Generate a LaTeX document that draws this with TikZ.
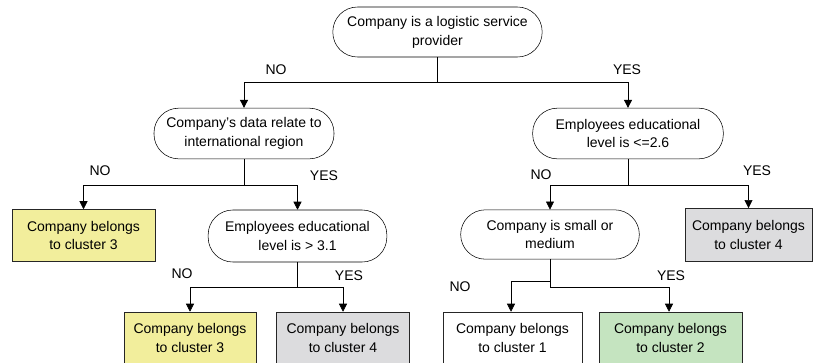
\documentclass[tikz,border=0pt]{standalone}
\usepackage{fontspec}
\setmainfont{Liberation Sans}
\usepackage{xcolor}
\usetikzlibrary{arrows.meta, positioning, calc}

\definecolor{leafyellow}{HTML}{F2EE9C}
\definecolor{leafgrey}{HTML}{DCDCDE}
\definecolor{leafgreen}{HTML}{C5E4C0}

\begin{document}
\begin{tikzpicture}[
  x=0.75pt, y=-0.75pt,
  every node/.style={font=\fontsize{10.5}{14.2}\selectfont},
  test/.style={rectangle, rounded corners=18.5pt, draw, thin, align=center, inner sep=0pt},
  leaf/.style={rectangle, draw=black!85, thin, align=center, inner sep=0pt},
  arrow/.style={-{Triangle[length=6pt, width=6pt]}, thin},
  answer/.style={inner sep=0pt}
]

\useasboundingbox (0,0) rectangle (821,362);

\node[test, minimum width=157pt, minimum height=37.5pt] (root) at (437.5, 32) {Company is a logistic service\\provider};
\node[test, minimum width=135pt, minimum height=38pt] (intl) at (244, 133.5) {Company’s data relate to\\international region};
\node[test, minimum width=143pt, minimum height=38pt] (edu26) at (628, 133.5) {Employees educational\\level is <=2.6};

\node[leaf, fill=leafyellow, minimum width=107pt, minimum height=39pt] (clA) at (83.5, 235.5) {Company belongs\\to cluster 3};
\node[test, minimum width=134pt, minimum height=39pt] (edu31) at (297.5, 236) {Employees educational\\level is > 3.1};
\node[test, minimum width=134pt, minimum height=37pt] (small) at (550, 234.5) {Company is small or\\medium};
\node[leaf, fill=leafgrey, minimum width=95pt, minimum height=40pt] (clB) at (748.5, 235) {Company belongs\\to cluster 4};

\node[leaf, fill=leafyellow, minimum width=99pt, minimum height=48pt, text depth=9pt] (clC) at (190, 344) {Company belongs\\to cluster 3};
\node[leaf, fill=leafgrey, minimum width=100pt, minimum height=48pt, text depth=9pt] (clD) at (343, 344) {Company belongs\\to cluster 4};
\node[leaf, fill=white, minimum width=104pt, minimum height=48pt, text depth=9pt] (clE) at (512.5, 344) {Company belongs\\to cluster 1};
\node[leaf, fill=leafgreen, minimum width=107pt, minimum height=48pt, text depth=9pt] (clF) at (670.5, 344) {Company belongs\\to cluster 2};

\node[answer] (no1) at (276, 70) {NO};
\node[answer] (yes1) at (627, 70) {YES};
\node[answer] (no2) at (100, 171) {NO};
\node[answer] (yes2) at (324, 176) {YES};
\node[answer] (no3) at (541, 175) {NO};
\node[answer] (yes3) at (757, 171) {YES};
\node[answer] (no4) at (182, 274) {NO};
\node[answer] (yes4) at (349, 276) {YES};
\node[answer] (no5) at (460, 287) {NO};
\node[answer] (yes5) at (671, 276) {YES};

\draw[arrow] (root.south) -- ++(0,25) -| (intl.north);
\draw[arrow] (root.south) -- ++(0,25) -| (edu26.north);
\draw[arrow] (intl.south) -- ++(0,26) -| (clA.north);
\draw[arrow] (intl.south) -- ++(0,26) -| (edu31.north);
\draw[arrow] (edu26.south) -- ++(0,26) -| (small.north);
\draw[arrow] (edu26.south) -- ++(0,26) -| (clB.north);
\draw[arrow] (edu31.south) -- ++(0,25) -| (clC.north);
\draw[arrow] (edu31.south) -- ++(0,25) -| (clD.north);
\draw[arrow] (small.south) -- ++(0,22) -| ($(clE.north)+(-1.5,0)$);
\draw[arrow] (small.south) -- ++(0,28) -| ($(clF.north)+(-1.5,0)$);

\end{tikzpicture}
\end{document}
